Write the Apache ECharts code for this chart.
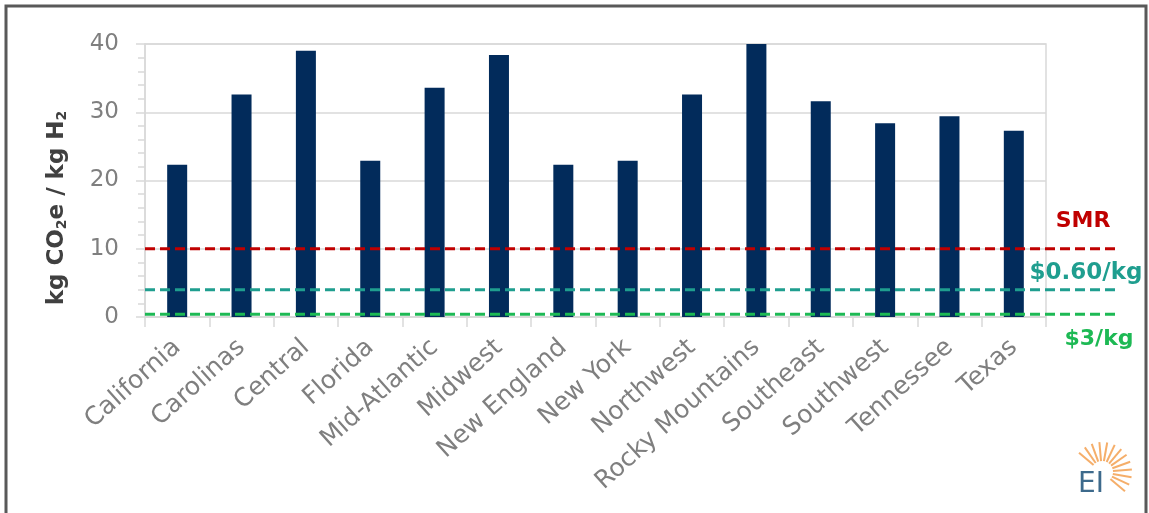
<!DOCTYPE html>
<html>
<head>
<meta charset="utf-8">
<script src="https://cdn.jsdelivr.net/npm/echarts@6/dist/echarts.min.js"></script>
<style>
  html, body { margin: 0; padding: 0; background: #fff; }
  #chart { width: 1149px; height: 513px; }
</style>
</head>
<body>
<div id="chart"></div>
<script>
  // regions and emissions (kg CO2e / kg H2)
  const regions = ['California', 'Carolinas', 'Central', 'Florida', 'Mid-Atlantic', 'Midwest',
    'New England', 'New York', 'Northwest', 'Rocky Mountains', 'Southeast', 'Southwest',
    'Tennessee', 'Texas'];
  const emissions = [22.3, 32.6, 39.0, 22.9, 33.6, 38.4, 22.3, 22.9, 32.6, 40.0, 31.6, 28.4, 29.4, 27.3];

  // reference thresholds
  const refNames = ['SMR', '$0.60/kg', '$3/kg'];
  const refValues = [10, 4, 0.4];
  const refColors = ['#c00000', '#1f9e8f', '#1db954'];

  const yTicks = [0, 10, 20, 30, 40];

  const gray = '#7f7f7f';
  const lineGray = '#d9d9d9';
  const font = '"DejaVu Sans", sans-serif';

  let chart = echarts.init(document.getElementById('chart'));

  // reference line series, drawn in a wider grid so they run past the plot area
  let refSeries = refNames.map(function (name, i) {
    return {
      name: name,
      type: 'line',
      xAxisIndex: 1,
      yAxisIndex: 1,
      data: [[0, refValues[i]], [1, refValues[i]]],
      symbol: 'none',
      silent: true,
      z: 5,
      lineStyle: { color: refColors[i], width: 3, type: [10, 5] }
    };
  });

  // label positions next to the line ends
  const refLabelPos = [[1083, 221], [1086, 273], [1099, 339]];

  let graphics = [
    {
      type: 'rect',
      shape: { x: 6, y: 6, width: 1140, height: 520 },
      style: { fill: 'none', stroke: '#595959', lineWidth: 3 },
      silent: true
    },
    {
      type: 'text',
      x: 57, y: 208,
      rotation: Math.PI / 2,
      style: {
        text: '{n|kg CO}{s|2}{n|e / kg H}{s|2}',
        align: 'center',
        verticalAlign: 'middle',
        rich: {
          n: { fontFamily: font, fontSize: 23, fontWeight: 'bold', fill: '#404040' },
          s: { fontFamily: font, fontSize: 14, fontWeight: 'bold', fill: '#404040', padding: [10, 0, 0, 0] }
        }
      }
    }
  ];

  refNames.forEach(function (name, i) {
    graphics.push({
      type: 'text',
      x: refLabelPos[i][0], y: refLabelPos[i][1],
      style: {
        text: name,
        align: 'center',
        verticalAlign: 'middle',
        fontFamily: font,
        fontSize: i === 1 ? 23 : 22,
        fontWeight: 'bold',
        fill: refColors[i]
      }
    });
  });

  // EI logo: orange rays + letters
  const rayAngles = [140, 125, 110, 95, 80, 65, 50, 35, 20, 5, -10, -25, -40];
  rayAngles.forEach(function (a) {
    let r = a * Math.PI / 180;
    let cx = 1102, cy = 472;
    graphics.push({
      type: 'line',
      shape: {
        x1: cx + Math.cos(r) * 11, y1: cy - Math.sin(r) * 11,
        x2: cx + Math.cos(r) * 30, y2: cy - Math.sin(r) * 30
      },
      style: { stroke: '#f39a45', lineWidth: 2, opacity: 0.8 },
      silent: true
    });
  });
  graphics.push({
    type: 'text',
    x: 1091, y: 485,
    style: {
      text: 'EI',
      align: 'center',
      verticalAlign: 'middle',
      fontFamily: font,
      fontSize: 28,
      fill: '#3d6a8c'
    }
  });

  chart.setOption({
    animation: false,
    backgroundColor: '#fff',
    grid: [
      {
        left: 145, right: 103, top: 44, bottom: 196,
        show: true,
        borderColor: lineGray,
        borderWidth: 1.5,
        backgroundColor: 'transparent'
      },
      { left: 145, right: 31, top: 44, bottom: 196 }
    ],
    xAxis: [
      {
        type: 'category',
        gridIndex: 0,
        data: regions,
        axisLine: { lineStyle: { color: lineGray, width: 1.5 } },
        axisTick: { show: true, length: 10, lineStyle: { color: lineGray, width: 1.5 } },
        axisLabel: {
          interval: 0,
          rotate: 42,
          margin: 27,
          fontFamily: font,
          fontSize: 25,
          color: gray
        }
      },
      { type: 'value', gridIndex: 1, min: 0, max: 1, show: false }
    ],
    yAxis: [
      {
        type: 'value',
        gridIndex: 0,
        min: yTicks[0],
        max: yTicks[yTicks.length - 1],
        interval: 10,
        axisLine: { show: true, lineStyle: { color: lineGray, width: 1.5 } },
        axisTick: { show: true, length: 9, lineStyle: { color: lineGray, width: 1.5 } },
        minorTick: { show: true, splitNumber: 5, length: 7, lineStyle: { color: lineGray, width: 1.5 } },
        splitLine: { show: true, lineStyle: { color: lineGray, width: 1.5 } },
        axisLabel: {
          margin: 26,
          fontFamily: font,
          fontSize: 23,
          color: gray
        }
      },
      { type: 'value', gridIndex: 1, min: 0, max: 40, show: false }
    ],
    graphic: graphics,
    series: [
      {
        name: 'Emissions',
        type: 'bar',
        data: emissions,
        barWidth: 20,
        itemStyle: { color: '#022b5b' },
        z: 2
      }
    ].concat(refSeries)
  });
</script>
</body>
</html>
